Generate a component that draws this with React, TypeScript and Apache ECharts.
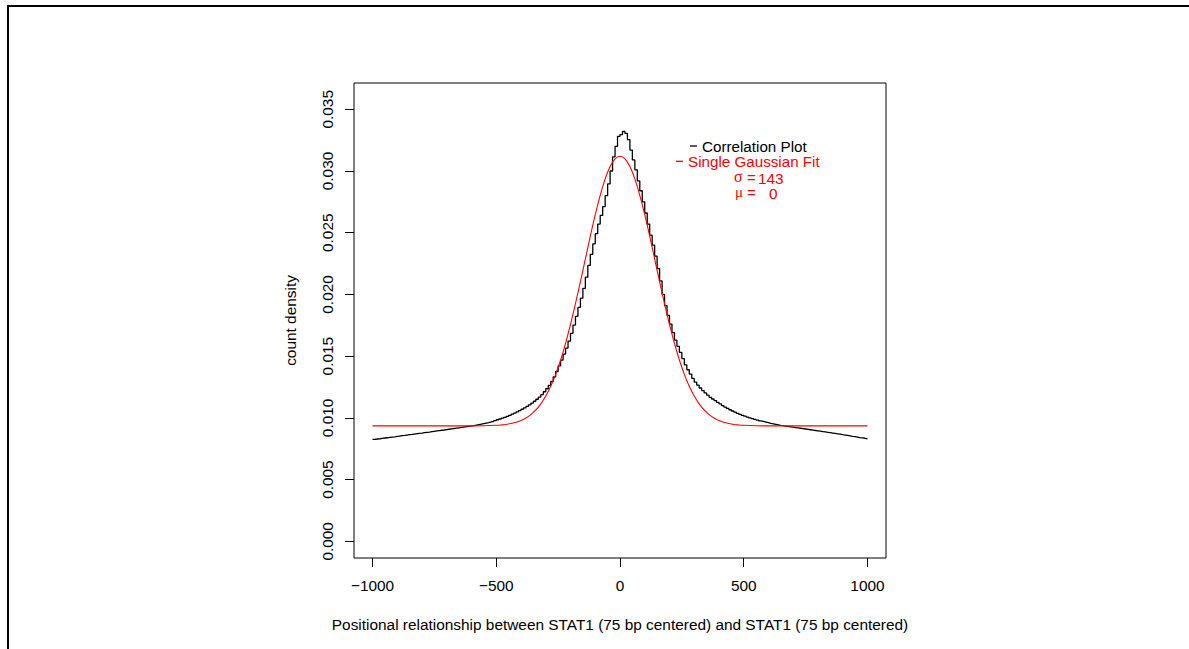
import React, { useEffect, useRef } from "react";
import * as echarts from "echarts";

// ---- data ----
const binStart = -1000;
const binWidth = 10;
// correlation plot (count density), one value per 10 bp from -1000 to 1000
const correlationDensity = [
  0.00826, 0.00829, 0.00831, 0.00834, 0.00837, 0.00839, 0.00842, 0.00845, 0.00847, 0.0085,
  0.00853, 0.00856, 0.00858, 0.00861, 0.00864, 0.00866, 0.00869, 0.00872, 0.00875, 0.00877,
  0.0088, 0.00883, 0.00885, 0.00888, 0.00891, 0.00894, 0.00897, 0.009, 0.00902, 0.00905,
  0.00908, 0.00911, 0.00914, 0.00917, 0.0092, 0.00923, 0.00926, 0.00929, 0.00932, 0.00935,
  0.00938, 0.00942, 0.00946, 0.0095, 0.00954, 0.00958, 0.00962, 0.00967, 0.00972, 0.00978,
  0.00985, 0.00991, 0.00998, 0.01005, 0.01013, 0.01021, 0.0103, 0.01039, 0.01049, 0.01059,
  0.0107, 0.01081, 0.01093, 0.01106, 0.0112, 0.01135, 0.01151, 0.01168, 0.01189, 0.01212,
  0.01236, 0.01263, 0.01295, 0.01333, 0.01376, 0.01421, 0.01468, 0.01517, 0.01566, 0.01622,
  0.01685, 0.01752, 0.01823, 0.01895, 0.0197, 0.0205, 0.0214, 0.02235, 0.02325, 0.0241,
  0.02492, 0.0257, 0.0264, 0.02712, 0.028, 0.02895, 0.03, 0.03115, 0.032, 0.0328,
  0.03295,
  0.0332, 0.03305, 0.03255, 0.0317, 0.0309, 0.0301, 0.0292, 0.0284, 0.0275, 0.0266,
  0.0257, 0.0248, 0.024, 0.0231, 0.0221, 0.0211, 0.02, 0.0191, 0.0183, 0.0176,
  0.0169, 0.0163, 0.0158, 0.0153, 0.0148, 0.0143, 0.0139, 0.01355, 0.0132, 0.0129,
  0.01265, 0.01242, 0.01221, 0.01202, 0.01184, 0.01167, 0.01153, 0.0114, 0.01126, 0.01113,
  0.011, 0.01088, 0.01077, 0.01066, 0.01056, 0.01046, 0.01037, 0.01029, 0.01021, 0.01014,
  0.01007, 0.01, 0.00994, 0.00988, 0.00982, 0.00976, 0.00971, 0.00966, 0.00961, 0.00956,
  0.00952, 0.00948, 0.00944, 0.0094, 0.00937, 0.00934, 0.00931, 0.00928, 0.00925, 0.00922,
  0.00919, 0.00916, 0.00913, 0.0091, 0.00907, 0.00904, 0.00901, 0.00898, 0.00895, 0.00892,
  0.00889, 0.00886, 0.00883, 0.0088, 0.00877, 0.00874, 0.00871, 0.00868, 0.00864, 0.00861,
  0.00858, 0.00855, 0.00851, 0.00848, 0.00845, 0.00841, 0.00838, 0.00835, 0.00831, 0.00828,
];

// single Gaussian fit (sigma = 143, mu = 0)
const gaussX = [
  -1000, -800, -600, -550, -500, -480, -460, -440, -420, -400, -380, -360, -340, -320, -300,
  -280, -260, -240, -220, -200, -180, -160, -140, -120, -100, -80, -60, -40, -20, 0,
  20, 40, 60, 80, 100, 120, 140, 160, 180, 200, 220, 240, 260, 280, 300,
  320, 340, 360, 380, 400, 420, 440, 460, 480, 500, 550, 600, 800, 1000,
];
const gaussY = [
  0.00935, 0.00935, 0.00935, 0.00936, 0.0094, 0.00943, 0.00947, 0.00954, 0.00964, 0.00979,
  0.00999, 0.01027, 0.01064, 0.01114, 0.01177, 0.01256, 0.01353, 0.01469, 0.01604, 0.01757,
  0.01925, 0.02104, 0.02288, 0.02472, 0.02646, 0.02803, 0.02936, 0.03036, 0.03099, 0.0312,
  0.03099, 0.03036, 0.02936, 0.02803, 0.02646, 0.02472, 0.02288, 0.02104, 0.01925, 0.01757,
  0.01604, 0.01469, 0.01353, 0.01256, 0.01177, 0.01114, 0.01064, 0.01027, 0.00999, 0.00979,
  0.00964, 0.00954, 0.00947, 0.00943, 0.0094, 0.00936, 0.00935, 0.00935, 0.00935,
];

const xTicks = [-1000, -500, 0, 500, 1000];
const yTicks = [0, 0.005, 0.01, 0.015, 0.02, 0.025, 0.03, 0.035];

const xTitle =
  "Positional relationship between STAT1 (75 bp centered) and STAT1 (75 bp centered)";
const yTitle = "count density";
const legendLabels = ["Correlation Plot", "Single Gaussian Fit"];
const sigmaValue = "143";
const muValue = "0";

const FONT = '"Liberation Sans", Arial, Helvetica, sans-serif';
const SERIF = '"Liberation Serif", "DejaVu Serif", serif';
const FS = 15.4;

export default function App() {
  const ref = useRef<HTMLDivElement>(null);

  useEffect(() => {
    if (!ref.current) return;
    const chart = echarts.init(ref.current, undefined, { renderer: "svg" });

    const blackData = correlationDensity.map((v, i) => [binStart + i * binWidth, v]);
    const redData = gaussX.map((x, i) => [x, gaussY[i]]);

    const textEl = (
      text: string,
      x: number,
      y: number,
      fill: string,
      family = FONT,
      size = FS
    ) => ({
      type: "text",
      x,
      y,
      silent: true,
      style: {
        text,
        fill,
        fontSize: size,
        fontFamily: family,
        lineHeight: 12,
        textAlign: "left",
        textVerticalAlign: "middle",
      },
    });

    chart.setOption({
      animation: false,
      backgroundColor: "#fff",
      grid: {
        left: 354,
        top: 83,
        width: 532,
        height: 475,
        show: true,
        borderColor: "#000",
        borderWidth: 1,
        backgroundColor: "transparent",
      },
      xAxis: {
        type: "value",
        min: -1075,
        max: 1075,
        axisLine: { show: false, onZero: false },
        splitLine: { show: false },
        axisTick: {
          show: true,
          customValues: xTicks,
          length: 9,
          lineStyle: { color: "#000", width: 1 },
        },
        axisLabel: {
          customValues: xTicks,
          formatter: (v: number) => (v < 0 ? "\u2212" + Math.abs(v) : String(v)),
          fontSize: FS,
          fontFamily: FONT,
          color: "#000",
          margin: 20,
        },
        name: xTitle,
        nameLocation: "middle",
        nameGap: 59,
        nameTextStyle: { fontSize: FS, fontFamily: FONT, color: "#000" },
      },
      yAxis: {
        type: "value",
        min: -0.00135,
        max: 0.03713,
        axisLine: { show: false, onZero: false },
        splitLine: { show: false },
        axisTick: {
          show: true,
          customValues: yTicks,
          length: 9,
          lineStyle: { color: "#000", width: 1 },
        },
        axisLabel: {
          customValues: yTicks,
          rotate: 90,
          formatter: (v: number) => v.toFixed(3),
          fontSize: FS,
          fontFamily: FONT,
          color: "#000",
          margin: 19,
        },
        name: yTitle,
        nameLocation: "middle",
        nameRotate: 90,
        nameGap: 56,
        nameTextStyle: { fontSize: FS, fontFamily: FONT, color: "#000" },
      },
      series: [
        {
          name: legendLabels[0],
          type: "line",
          data: blackData,
          step: "end",
          showSymbol: false,
          symbol: "none",
          lineStyle: { color: "#000", width: 1.3 },
          z: 2,
        },
        {
          name: legendLabels[1],
          type: "line",
          data: redData,
          smooth: 0.3,
          showSymbol: false,
          symbol: "none",
          lineStyle: { color: "#ff0000", width: 1.1 },
          z: 3,
        },
      ],
      graphic: [
        {
          type: "rect",
          silent: true,
          shape: { x: 7, y: 5, width: 1182, height: 2 },
          style: { fill: "#000" },
        },
        {
          type: "rect",
          silent: true,
          shape: { x: 7, y: 5, width: 2, height: 644 },
          style: { fill: "#000" },
        },
        {
          type: "line",
          silent: true,
          shape: { x1: 690, y1: 146, x2: 697, y2: 146 },
          style: { stroke: "#000", lineWidth: 1.3 },
        },
        textEl(legendLabels[0], 702, 146, "#000", FONT, 15.2),
        {
          type: "line",
          silent: true,
          shape: { x1: 676, y1: 161.3, x2: 683, y2: 161.3 },
          style: { stroke: "#ff0000", lineWidth: 1.3 },
        },
        textEl(legendLabels[1], 688, 161.3, "#ff0000", FONT, 15.2),
        textEl("\u03c3", 734, 176.5, "#ff0000", SERIF, 16),
        textEl("=", 747, 177, "#ff0000", FONT, 15),
        textEl(sigmaValue, 758, 178, "#ff0000"),
        textEl("\u03bc", 735, 192, "#ff0000", SERIF, 15),
        textEl("=", 747, 192, "#ff0000", FONT, 15),
        textEl(muValue, 769, 193, "#ff0000"),
      ],
    });

    return () => chart.dispose();
  }, []);

  return (
    <div
      ref={ref}
      style={{ position: "fixed", left: 0, top: 0, width: 1189, height: 649 }}
    />
  );
}
